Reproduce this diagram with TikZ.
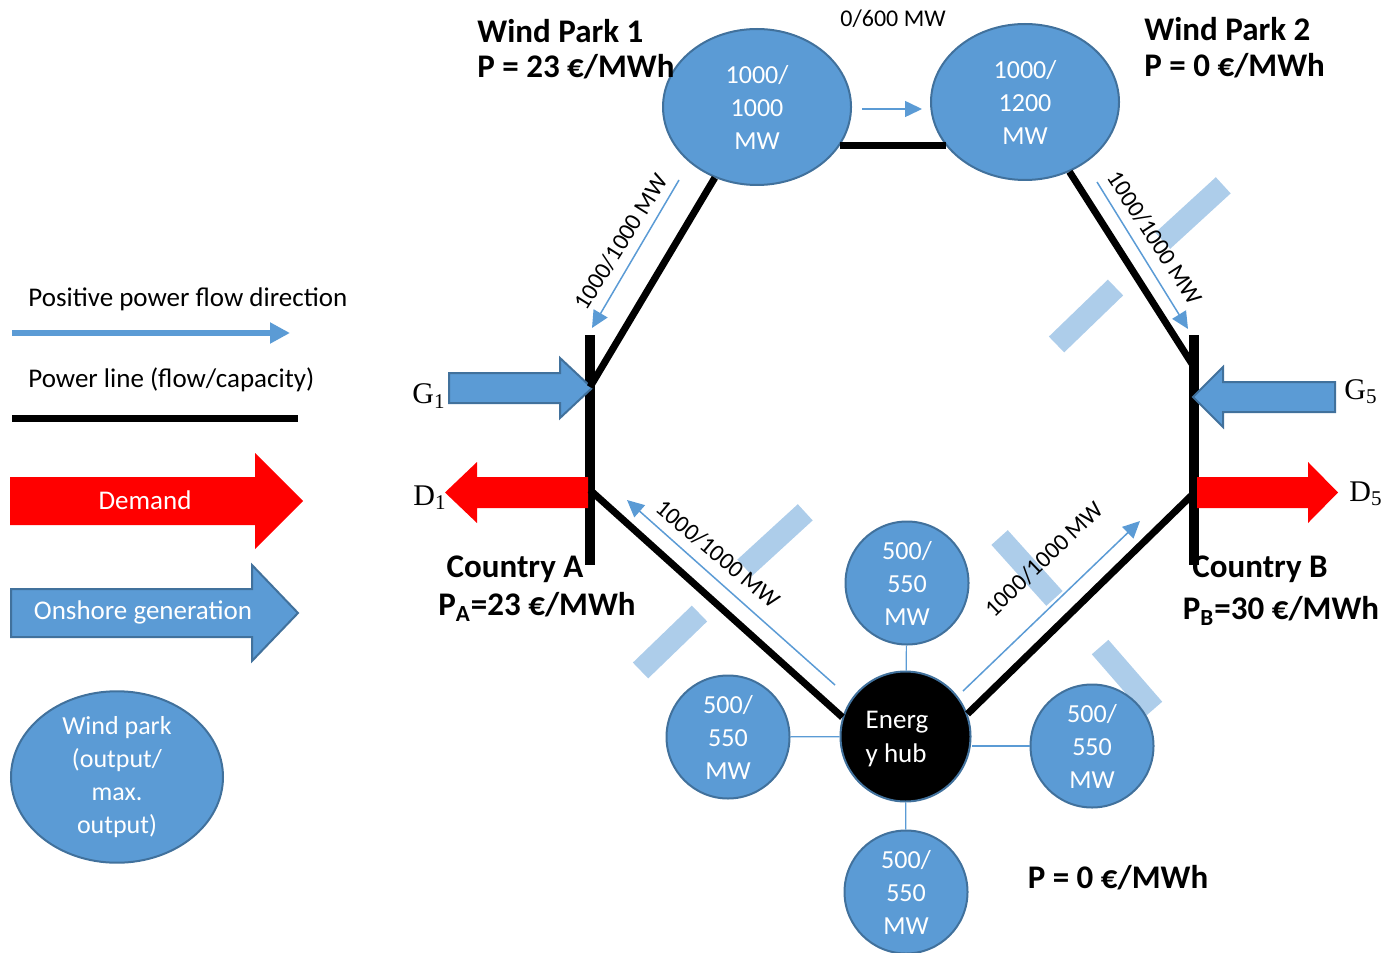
\documentclass[tikz,border=0pt]{standalone}
\usepackage{fontspec}
\setmainfont{Carlito}
\newfontfamily\timesfont{Liberation Serif}
\usetikzlibrary{shapes.geometric,arrows.meta}
\definecolor{parkblue}{HTML}{5B9BD5}
\definecolor{edgeblue}{HTML}{41719C}
\definecolor{barblue}{HTML}{ADCDEA}
\definecolor{demandred}{HTML}{FF0000}
\begin{document}
\begin{tikzpicture}[x=0.5pt,y=-0.5pt,
  park/.style={ellipse, draw=edgeblue, fill=parkblue, line width=1pt, inner sep=0pt,
    text=white, align=center, font=\fontsize{13}{16.5}\selectfont},
  wpark/.style={park, minimum width=94pt, minimum height=78pt},
  farm/.style={park, circle, minimum size=61.5pt},
  hubnode/.style={circle, draw=edgeblue, fill=black, line width=1pt, inner sep=0pt,
    minimum size=65pt},
  hubtext/.style={text=white, align=left, inner sep=0pt, font=\fontsize{13.5}{17}\selectfont},
  pline/.style={line width=3.5pt},
  bus/.style={line width=5pt},
  flow/.style={draw=parkblue, line width=0.75pt, -{Triangle[length=8.5pt,width=8pt]}},
  feeder/.style={draw=parkblue, line width=0.6pt},
  lbl/.style={font=\fontsize{12}{14}\selectfont, inner sep=0pt},
  ttl/.style={font=\bfseries\fontsize{16.5}{19}\selectfont, inner sep=0pt},
  legtext/.style={font=\fontsize{13.5}{16}\selectfont, inner sep=0pt},
  sym/.style={font=\timesfont\fontsize{15}{18}\selectfont, inner sep=0pt},
  bar/.style={fill=barblue},
  genarrow/.style={fill=parkblue, draw=edgeblue, line width=1pt},
  demarrow/.style={fill=demandred}
]
\useasboundingbox (0,0) rectangle (1384,952);

% light blue bars
\fill[bar, rotate around={42.5:(1193,213)}] (1152,202) rectangle (1234,224);
\fill[bar, rotate around={44:(1086,316)}] (1045,305) rectangle (1127,327);
\fill[bar, rotate around={42.5:(775,540)}] (734,529) rectangle (816,551);
\fill[bar, rotate around={44:(670,642)}] (629,631) rectangle (711,653);
\fill[bar, rotate around={-48:(1027,568)}] (986,557) rectangle (1068,579);
\fill[bar, rotate around={-49:(1127,678)}] (1086,667) rectangle (1168,689);

% legend
\node[legtext, anchor=west] (leg1) at (28,299) {Positive power flow direction};
\coordinate (la1) at (12,333);
\coordinate (la2) at (290,333);
\draw[draw=parkblue, line width=3.4pt, -{Triangle[length=10pt,width=10pt]}] (la1) -- (la2);
\node[legtext, anchor=west] (leg2) at (28,380) {Power line (flow/capacity)};
\coordinate (lb1) at (12,418);
\coordinate (lb2) at (298,418);
\draw[line width=3.5pt] (lb1) -- (lb2);
\fill[demarrow] (10,477) -- (255,477) -- (255,453) -- (303,501) -- (255,549) -- (255,525) -- (10,525) -- cycle;
\node[legtext, text=white] (legdem) at (145,500) {Demand};
\draw[genarrow] (11,589) -- (252,589) -- (252,565) -- (298,613) -- (252,661) -- (252,637) -- (11,637) -- cycle;
\node[legtext, text=white] (leggen) at (143,612) {Onshore generation};
\node[park, minimum width=106pt, minimum height=85pt] (legpark) at (117,777)
  {Wind park\\(output/\\max.\\output)};

% buses
\coordinate (aTop) at (590,335);
\coordinate (aBot) at (590,565);
\coordinate (bTop) at (1194,335);
\coordinate (bBot) at (1194,565);
\coordinate (aN) at (590,387);
\coordinate (aS) at (590,490);
\coordinate (bN) at (1194,367);
\coordinate (bS) at (1194,493);
\draw[bus] (aTop) -- (aBot);
\draw[bus] (bTop) -- (bBot);

% generation and demand arrows at the buses
\draw[genarrow] (449,373) -- (560,373) -- (560,358) -- (592,388) -- (560,418) -- (560,403) -- (449,403) -- cycle;
\fill[demarrow] (588,477) -- (477,477) -- (477,462) -- (445,492.5) -- (477,523) -- (477,508) -- (588,508) -- cycle;
\draw[genarrow] (1335,382) -- (1223,382) -- (1223,367) -- (1193,397) -- (1223,427) -- (1223,412) -- (1335,412) -- cycle;
\fill[demarrow] (1197,477) -- (1308,477) -- (1308,462) -- (1338,492.5) -- (1308,523) -- (1308,508) -- (1197,508) -- cycle;
\node[sym] (g1) at (429,396) {G\textsubscript{1}};
\node[sym] (d1) at (430,498) {D\textsubscript{1}};
\node[sym] (g5) at (1361,392) {G\textsubscript{5}};
\node[sym] (d5) at (1366,494) {D\textsubscript{5}};

% wind parks
\node[wpark] (wp1) at (757,107) {1000/\\1000\\MW};
\node[wpark] (wp2) at (1025,102) {1000/\\1200\\MW};

% energy hub and its farms
\node[farm] (farmN) at (907,583) {500/\\550\\MW};
\node[farm] (farmW) at (728,737) {500/\\550\\MW};
\node[farm] (farmE) at (1092,746) {500/\\550\\MW};
\node[farm] (farmS) at (906,892) {500/\\550\\MW};
\node[hubnode] (hub) at (905.5,736.5) {};
\node[hubtext] (hubname) at (897,739) {Energ\\y hub};
\draw[feeder] (farmN) -- (hub);
\draw[feeder] (farmW) -- (hub);
\draw[feeder] (farmE) -- (farmE -| hub.east);
\draw[feeder] (farmS) -- (hub);

% power lines
\draw[pline] (wp1.-25) -- (wp1.-25 -| wp2.-151);
\draw[pline] (wp1) -- (aN);
\draw[pline] (wp2) -- (bN);
\draw[pline] (aS) -- (hub.163);
\draw[pline] (hub.20) -- (bS);

% positive flow directions
\coordinate (f1s) at (679,180);
\coordinate (f1e) at (592,328);
\coordinate (f2s) at (1097,182);
\coordinate (f2e) at (1188,329);
\coordinate (f3s) at (835,685);
\coordinate (f3e) at (627,500);
\coordinate (f4s) at (963,691);
\coordinate (f4e) at (1140,521);
\coordinate (f5s) at (862,109);
\coordinate (f5e) at (922,109);
\draw[flow] (f1s) -- (f1e);
\draw[flow] (f2s) -- (f2e);
\draw[flow] (f3s) -- (f3e);
\draw[flow] (f4s) -- (f4e);
\draw[flow] (f5s) -- (f5e);

% line labels
\node[lbl] (l12) at (893,19) {0/600 MW};
\node[lbl, rotate=58] (lA1) at (621,242) {1000/1000 MW};
\node[lbl, rotate=-57] (lB2) at (1155,238) {1000/1000 MW};
\node[lbl, rotate=-40] (lAH) at (718,554) {1000/1000 MW};
\node[lbl, rotate=44] (lHB) at (1044,559) {1000/1000 MW};

% titles and prices
\node[ttl, anchor=west] (t1) at (477,31) {Wind Park 1};
\node[ttl, anchor=west] (p1) at (477,67) {P = 23 €/MWh};
\node[ttl, anchor=west] (t2) at (1144,29) {Wind Park 2};
\node[ttl, anchor=west] (p2) at (1144,66) {P = 0 €/MWh};
\node[ttl] (cA) at (515,569) {Country A};
\node[ttl] (pA) at (537,607) {P\textsubscript{A}=23 €/MWh};
\node[ttl] (cB) at (1260,569) {Country B};
\node[ttl] (pB) at (1281,611) {P\textsubscript{B}=30 €/MWh};
\node[ttl] (pH) at (1118,878) {P = 0 €/MWh};
\end{tikzpicture}
\end{document}
